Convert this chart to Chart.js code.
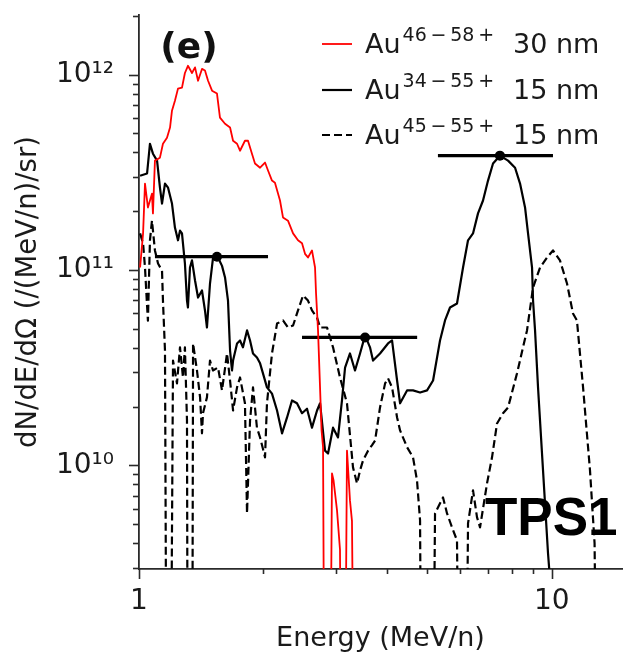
<!DOCTYPE html>
<html>
<head>
<meta charset="utf-8">
<script src="https://cdn.jsdelivr.net/npm/chart.js@4.4.1/dist/chart.umd.min.js"></script>
<style>
html,body{margin:0;padding:0;background:#fff;}
#wrap{width:623px;height:655px;position:relative;}
</style>
</head>
<body>
<div id="wrap"><canvas id="c" width="623" height="655"></canvas></div>
<script>
// ---- data ----
const redEnergy = [1.006,1.023,1.034,1.051,1.075,1.081,1.093,1.124,1.143,1.169,1.189,1.202,1.222,1.243,1.271,1.292,1.314,1.344,1.367,1.390,1.421,1.445,1.470,1.503,1.545,1.571,1.616,1.662,1.690,1.728,1.757,1.806,1.837,1.878,1.910,1.965,2.020,2.054,2.100,2.135,2.196,2.233,2.296,2.362,2.428,2.483,2.525,2.567,2.625,2.670,2.685,2.715,2.769,2.792,2.823,2.890,2.935,2.960,3.018,3.069,3.103,3.140,3.191,3.245,3.281,3.337];
const redFlux = [1.03e11,1.54e11,2.77e11,2.09e11,2.46e11,1.95e11,3.63e11,3.76e11,4.43e11,4.76e11,5.36e11,6.54e11,7.36e11,8.48e11,8.59e11,1.02e12,1.11e12,1.02e12,1.09e12,9.31e11,1.07e12,1.05e12,9.31e11,8.28e11,8.00e11,6.03e11,5.61e11,5.36e11,4.59e11,4.43e11,4.08e11,4.59e11,4.59e11,3.94e11,3.51e11,3.34e11,3.55e11,3.23e11,2.87e11,2.80e11,2.27e11,1.86e11,1.79e11,1.54e11,1.42e11,1.37e11,1.21e11,1.16e11,1.26e11,1.03e11,7.6e10,4.91e10,1.51e10,1.24e10,1e8,1e8,9.1e9,8.4e9,5.9e9,3.7e9,1e8,1e8,1.19e10,6.6e9,5.2e9,1e8];

const solidEnergy = [1.006,1.046,1.063,1.081,1.106,1.124,1.137,1.156,1.176,1.202,1.222,1.243,1.257,1.271,1.292,1.307,1.314,1.329,1.344,1.367,1.390,1.421,1.445,1.461,1.486,1.511,1.554,1.589,1.616,1.643,1.662,1.680,1.690,1.728,1.757,1.786,1.827,1.858,1.889,1.931,1.965,1.997,2.042,2.100,2.160,2.221,2.284,2.348,2.414,2.483,2.553,2.625,2.700,2.746,2.823,2.871,2.952,3.035,3.103,3.157,3.245,3.337,3.432,3.530,3.628,3.690,3.837,4.012,4.103,4.220,4.291,4.461,4.612,4.797,4.988,5.158,5.362,5.514,5.670,5.895,6.097,6.269,6.446,6.628,6.816,7.009,7.207,7.490,7.837,8.150,8.380,8.617,8.762,8.960,9.010,9.111,9.264,9.526,9.795,10.0];
const solidFlux = [3.04e11,3.12e11,4.43e11,3.94e11,3.63e11,2.64e11,2.19e11,2.77e11,2.64e11,2.19e11,1.65e11,1.42e11,1.59e11,1.54e11,1.08e11,6.98e10,6.43e10,1.03e11,1.12e11,8.84e10,7.23e10,7.86e10,6.21e10,5.08e10,8.53e10,1.15e11,1.16e11,1.05e11,9.16e10,6.98e10,3.87e10,3.06e10,3.44e10,4.21e10,4.36e10,4.02e10,4.91e10,4.36e10,3.74e10,3.57e10,3.33e10,2.96e10,2.51e10,2.33e10,1.91e10,1.46e10,1.76e10,2.15e10,2.08e10,1.85e10,1.95e10,1.56e10,1.91e10,2.08e10,1.19e10,1.15e10,1.56e10,1.39e10,2.15e10,3.17e10,3.74e10,3.06e10,3.74e10,4.63e10,4.02e10,3.44e10,3.74e10,4.21e10,4.36e10,2.72e10,2.08e10,2.42e10,2.42e10,2.36e10,2.42e10,2.72e10,4.36e10,5.52e10,6.43e10,6.74e10,1.03e11,1.42e11,1.54e11,1.95e11,2.27e11,2.87e11,3.51e11,3.85e11,3.63e11,3.34e11,2.77e11,2.09e11,1.54e11,1.03e11,6.98e10,4.91e10,2.51e10,9.43e9,3.55e9,2.0e9];

const dashEnergy = [1.006,1.023,1.034,1.046,1.051,1.063,1.075,1.093,1.112,1.137,1.143,1.156,1.169,1.189,1.209,1.236,1.257,1.278,1.292,1.307,1.314,1.344,1.352,1.382,1.406,1.421,1.429,1.461,1.486,1.511,1.554,1.589,1.634,1.662,1.690,1.728,1.757,1.806,1.827,1.858,1.889,1.931,1.965,2.020,2.042,2.100,2.160,2.233,2.296,2.362,2.428,2.497,2.567,2.625,2.700,2.746,2.855,2.952,3.069,3.191,3.300,3.375,3.432,3.490,3.589,3.670,3.732,3.837,3.947,4.012,4.103,4.220,4.291,4.461,4.612,4.716,4.797,4.850,5.129,5.215,5.453,5.576,5.734,5.895,5.996,6.166,6.269,6.446,6.592,6.704,6.970,7.167,7.370,7.621,7.837,8.240,8.520,8.712,9.010,9.370,9.741,10.07,10.47,10.89,11.26,11.51,11.91,12.38,12.70,12.95];
const dashFlux = [1.54e11,1.37e11,1.03e11,6.58e10,5.5e10,1.42e11,1.79e11,1.26e11,1.08e11,9.94e10,6.98e10,3.87e10,1e8,1e8,3.44e10,2.63e10,4.02e10,2.82e10,4.02e10,1.70e10,1e8,1e8,4.21e10,3.06e10,2.23e10,1.46e10,1.85e10,2.23e10,3.44e10,3.06e10,3.17e10,2.42e10,3.74e10,2.72e10,1.91e10,2.51e10,2.82e10,2.08e10,5.68e9,1.70e10,2.51e10,1.56e10,1.39e10,1.10e10,2.08e10,3.74e10,5.32e10,5.52e10,5.08e10,5.20e10,6.21e10,7.41e10,6.98e10,6.21e10,5.71e10,5.08e10,5.08e10,4.02e10,2.82e10,2.08e10,9.77e9,8.09e9,9.43e9,1.06e10,1.19e10,1.27e10,1.34e10,1.98e10,2.63e10,2.79e10,2.51e10,1.76e10,1.51e10,1.24e10,1.10e10,8.38e9,5.23e9,1e8,1e8,5.68e9,6.86e9,5.68e9,4.82e9,4.13e9,1e8,1e8,5.05e9,7.45e9,5.42e9,4.82e9,8.09e9,1.10e10,1.64e10,1.85e10,1.98e10,2.96e10,4.02e10,4.91e10,8.14e10,1.03e11,1.16e11,1.26e11,1.12e11,8.53e10,5.99e10,5.52e10,2.51e10,9.43e9,4.0e9,1e8];

// horizontal bars with a dot at the peak
const barLow   = [1.093, 2.483, 5.30];
const barHigh  = [2.054, 4.72, 10.07];
const barPeak  = [1.545, 3.53, 7.49];
const barLevel = [1.17e11, 4.52e10, 3.85e11];

// axes
const xTickValues = [1, 10];
const xTickLabels = ['1', '10'];
const yTickValues = [1e10, 1e11, 1e12];
const yTickLabels = ['10\u00B9\u2070', '10\u00B9\u00B9', '10\u00B9\u00B2'];
const xRange = [1, 14.8];
const yRange = [2.95e9, 2.02e12];

// legend text
const legendIon = ['46\u2009\u2212\u200958\u2009+', '34\u2009\u2212\u200955\u2009+', '45\u2009\u2212\u200955\u2009+'];
const legendThick = ['30 nm', '15 nm', '15 nm'];

// ---- chart ----
Chart.defaults.font.family = 'DejaVu Sans';
Chart.defaults.color = '#1a1a1a';

function pts(xs, ys){ return xs.map((x,i)=>({x:x, y:ys[i]})); }

const datasets = [
  {data: pts(redEnergy, redFlux), borderColor:'#ff0000', borderWidth:1.8},
  {data: pts(solidEnergy, solidFlux), borderColor:'#000', borderWidth:2.2},
  {data: pts(dashEnergy, dashFlux), borderColor:'#000', borderWidth:2.2, borderDash:[8,4]}
];
barLow.forEach((lo,i)=>{
  datasets.push({data:[{x:lo,y:barLevel[i]},{x:barHigh[i],y:barLevel[i]}], borderColor:'#000', borderWidth:3.2});
});
datasets.push({data: pts(barPeak, barLevel), showLine:false, pointRadius:5, pointBackgroundColor:'#000', pointBorderColor:'#000', borderWidth:0});
datasets.forEach(d=>{ if(d.showLine===undefined) d.showLine=true; if(d.pointRadius===undefined) d.pointRadius=0; d.pointHoverRadius=0; d.tension=0; d.borderJoinStyle='round'; });

const tickPlugin = {
  id:'ticksAndText',
  afterDraw(chart){
    const ctx = chart.ctx, xs = chart.scales.x, ys = chart.scales.y, a = chart.chartArea;
    ctx.save();
    ctx.strokeStyle = '#2a2a2a';
    ctx.lineWidth = 1.6;
    // y ticks
    for (let k=9;k<=12;k++){
      for (let m=1;m<=9;m++){
        const v = m*Math.pow(10,k);
        if (v < ys.min*0.999 || v > ys.max*1.001) continue;
        const py = Math.round(ys.getPixelForValue(v))+0.5;
        const len = m===1 ? 10 : 6;
        ctx.beginPath(); ctx.moveTo(a.left-len, py); ctx.lineTo(a.left, py); ctx.stroke();
      }
    }
    // x ticks
    for (let k=0;k<=1;k++){
      for (let m=1;m<=9;m++){
        const v = m*Math.pow(10,k);
        if (v < xs.min*0.999 || v > xs.max*1.001) continue;
        const px = Math.round(xs.getPixelForValue(v))+0.5;
        const len = m===1 ? 10 : 5;
        ctx.beginPath(); ctx.moveTo(px, a.bottom); ctx.lineTo(px, a.bottom+len); ctx.stroke();
      }
    }
    // legend
    const rows = [44, 90, 135];
    const styles = [{c:'#ff0000',w:1.8,d:[]},{c:'#000',w:2.2,d:[]},{c:'#000',w:2.2,d:[8,4]}];
    rows.forEach((y,i)=>{
      ctx.strokeStyle = styles[i].c; ctx.lineWidth = styles[i].w; ctx.setLineDash(styles[i].d);
      ctx.beginPath(); ctx.moveTo(322,y); ctx.lineTo(352,y); ctx.stroke();
      ctx.setLineDash([]);
      ctx.fillStyle = '#1a1a1a';
      ctx.textBaseline = 'alphabetic'; ctx.textAlign = 'left';
      ctx.font = '27px DejaVu Sans';
      ctx.fillText('Au', 365, y+9);
      const w = ctx.measureText('Au').width;
      ctx.font = '19px DejaVu Sans';
      ctx.fillText(legendIon[i], 365+w+2, y-3);
      ctx.font = '27px DejaVu Sans';
      ctx.fillText(legendThick[i], 513, y+9);
    });
    // panel label and TPS1
    ctx.fillStyle = '#111';
    ctx.font = 'bold 36px DejaVu Sans';
    ctx.textAlign = 'center'; ctx.textBaseline = 'middle';
    ctx.fillText('(e)', 189, 49);
    ctx.fillStyle = '#000';
    ctx.font = 'bold 53px Liberation Sans';
    ctx.textAlign = 'left'; ctx.textBaseline = 'alphabetic';
    ctx.fillText('TPS1', 485, 535);
    ctx.restore();
  }
};

new Chart(document.getElementById('c'), {
  type:'scatter',
  data:{datasets},
  options:{
    responsive:false,
    animation:false,
    devicePixelRatio:1,
    layout:{autoPadding:false, padding:{top:15,right:1,left:0,bottom:0}},
    plugins:{legend:{display:false}, tooltip:{enabled:false}},
    scales:{
      x:{
        type:'logarithmic', min:xRange[0], max:xRange[1],
        afterBuildTicks(s){ s.ticks = xTickValues.map(v=>({value:v})); },
        afterFit(s){ s.height = 86; s.paddingLeft = 0; s.paddingRight = 0; },
        grid:{display:false, drawTicks:false},
        border:{display:true, color:'#2a2a2a', width:1.8},
        ticks:{autoSkip:false, maxRotation:0, padding:16, font:{size:28}, color:'#1a1a1a',
          callback:(v,i)=>xTickLabels[i]},
        title:{display:true, text:'Energy (MeV/n)', font:{size:27}, color:'#1a1a1a', padding:{top:0,bottom:0}}
      },
      y:{
        type:'logarithmic', min:yRange[0], max:yRange[1],
        afterBuildTicks(s){ s.ticks = yTickValues.map(v=>({value:v})); },
        afterFit(s){ s.width = 139; s.paddingTop = 0; s.paddingBottom = 0; },
        grid:{display:false, drawTicks:false},
        border:{display:true, color:'#2a2a2a', width:1.8},
        ticks:{autoSkip:false, padding:25, font:{size:28}, color:'#1a1a1a',
          callback:(v,i)=>yTickLabels[i]},
        title:{display:true, text:'dN/dE/d\u03A9 (/(MeV/n)/sr)', font:{size:27.5}, color:'#1a1a1a', padding:{top:12,bottom:0}}
      }
    }
  },
  plugins:[tickPlugin]
});
</script>
</body>
</html>
